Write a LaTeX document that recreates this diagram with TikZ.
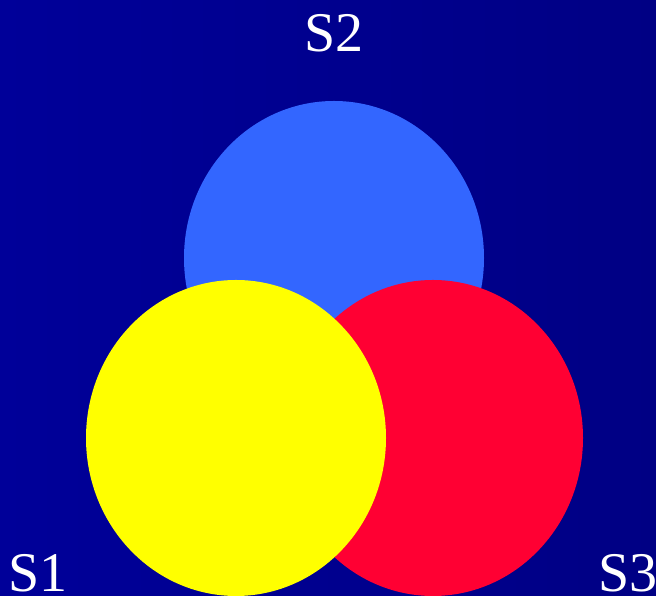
\documentclass[tikz,border=0pt]{standalone}
\usepackage{fontspec}
\setmainfont{Liberation Serif}
\definecolor{bgL}{HTML}{000099}
\definecolor{bgR}{HTML}{000084}
\definecolor{cblue}{HTML}{3366FF}
\definecolor{cyellow}{HTML}{FFFF00}
\definecolor{cred}{HTML}{FF0033}
\begin{document}
\begin{tikzpicture}[x=1pt,y=1pt,
  lbl/.style={text=white,font=\fontsize{56}{60}\selectfont,inner sep=0pt,anchor=base}]
\useasboundingbox (0,0) rectangle (656,596);
\shade[left color=bgL,right color=bgR] (0,0) rectangle (656,596);
\fill[cblue] (334,338) ellipse [x radius=150, y radius=157];
\fill[cred] (433,158) ellipse [x radius=150, y radius=158];
\fill[cyellow] (236,158) ellipse [x radius=150, y radius=158];
\node[lbl] (s2) at (334,544) {S2};
\node[lbl] (s1) at (38,4) {S1};
\node[lbl] (s3) at (628,4) {S3};
\end{tikzpicture}
\end{document}
